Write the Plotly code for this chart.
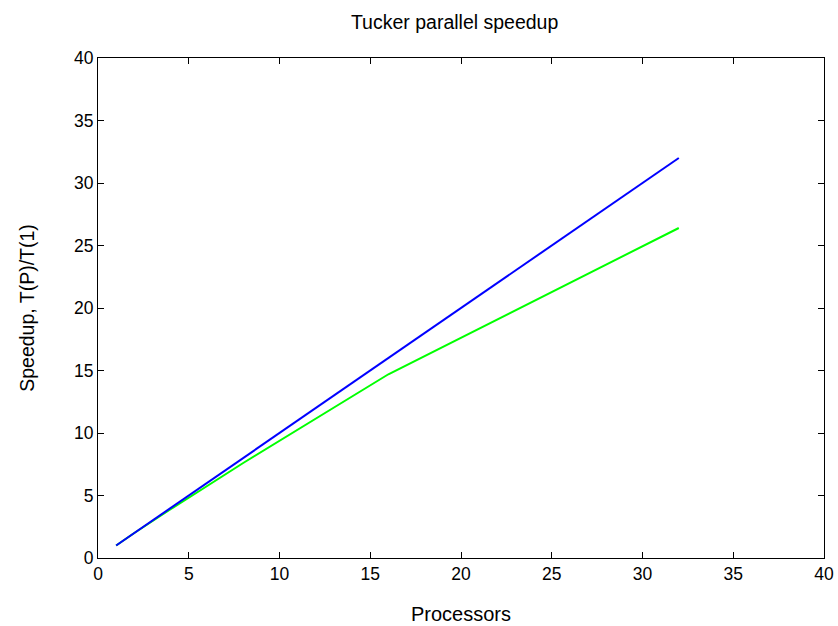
import plotly.graph_objects as go

processors = [1, 2, 4, 8, 16, 32]
ideal_speedup = [1, 2, 4, 8, 16, 32]
measured_speedup = [1, 2, 3.9, 7.6, 14.7, 26.4]

fig = go.Figure()
fig.add_trace(go.Scatter(x=processors, y=measured_speedup, mode="lines",
                         line=dict(color="#00ff00", width=2), showlegend=False))
fig.add_trace(go.Scatter(x=processors, y=ideal_speedup, mode="lines",
                         line=dict(color="#0000ff", width=2), showlegend=False))

font_family = "Liberation Sans, Arial, sans-serif"
axis_common = dict(
    showline=True, linecolor="black", linewidth=1, mirror="ticks",
    ticks="inside", ticklen=6, tickcolor="black", tickwidth=1,
    showgrid=False, zeroline=False, automargin=False,
    tickfont=dict(family=font_family, size=17.5, color="black"),
)

fig.update_layout(
    width=838, height=626,
    margin=dict(l=98, r=14, t=58, b=68),
    paper_bgcolor="white", plot_bgcolor="white",
    title=dict(text="Tucker parallel speedup", x=0.5425, xanchor="center",
               y=1 - 22 / 626, yanchor="middle", automargin=False,
               font=dict(family=font_family, size=19.5, color="black")),
    xaxis=dict(range=[0, 40], tick0=0, dtick=5,
               title=dict(text="Processors", standoff=23,
                          font=dict(family=font_family, size=20, color="black")),
               **axis_common),
    yaxis=dict(range=[0, 40], tick0=0, dtick=5,
               title=dict(text="Speedup, T(P)/T(1)", standoff=34,
                          font=dict(family=font_family, size=19.5, color="black")),
               **axis_common),
)

fig.write_html("out.html", config={"displayModeBar": False},
               post_script="document.body.style.margin='0';document.body.style.overflow='hidden';")
